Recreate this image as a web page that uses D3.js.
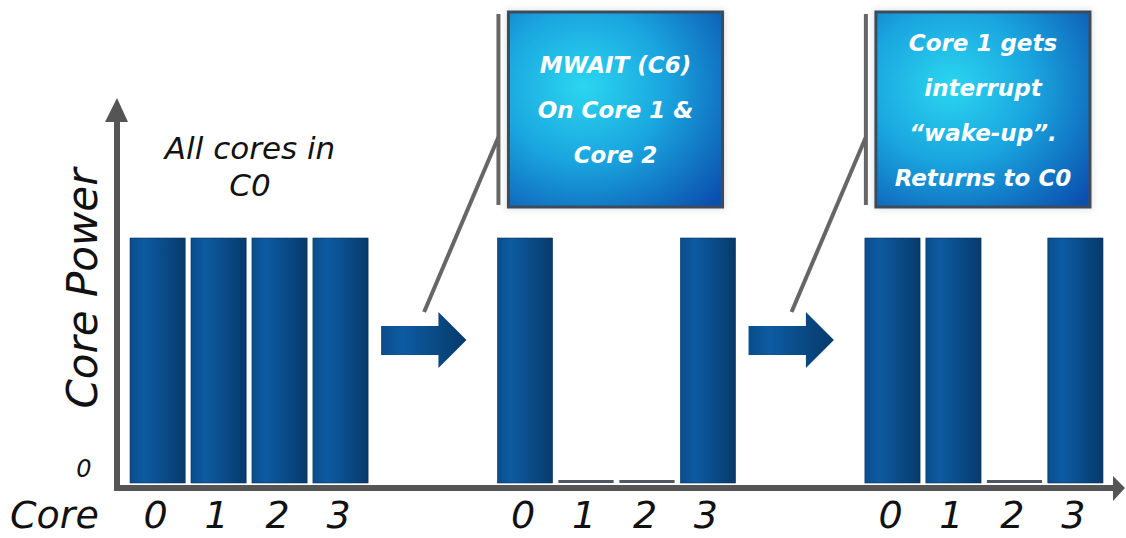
<!DOCTYPE html>
<html>
<head>
<meta charset="utf-8">
<script src="https://cdn.jsdelivr.net/npm/d3@7"></script>
<style>
  html, body { margin: 0; padding: 0; background: #ffffff; }
  svg { display: block; }
</style>
</head>
<body>
<svg id="chart" width="1126" height="538"></svg>
<script>
// Core power in three successive states of a 4-core package
const stages = ["All cores in C0", "MWAIT (C6) on cores 1 & 2", "Core 1 wakes"];
const cores = ["0", "1", "2", "3"];
const powerAllC0 = [1, 1, 1, 1];
const powerMwait = [1, 0, 0, 1];
const powerWake = [1, 1, 0, 1];
const stageTitle = ["All cores in", "C0"];
const calloutMwait = ["MWAIT (C6)", "On Core 1 &", "Core 2"];
const calloutWake = ["Core 1 gets", "interrupt", "\u201Cwake-up\u201D.", "Returns to C0"];

const series = [powerAllC0, powerMwait, powerWake];
const callouts = [null, calloutMwait, calloutWake];

const svg = d3.select("#chart");
const FONT = "'DejaVu Sans', Verdana, sans-serif";
const AXIS = "#555555";

// Scales: one band per stage, one sub-band per core
const x0 = d3.scaleBand().domain(d3.range(stages.length)).range([130, 1103]).paddingInner(0.352);
const x1 = d3.scaleBand().domain(cores).range([0, x0.bandwidth()]).paddingInner(0.095);
const y = d3.scaleLinear().domain([0, 1]).range([483, 238]);

// Gradients
const defs = svg.append("defs");
const barGrad = defs.append("linearGradient").attr("id", "barGrad").attr("x1", 0).attr("x2", 1).attr("y1", 0).attr("y2", 0);
barGrad.append("stop").attr("offset", "0%").attr("stop-color", "#0a4d8c");
barGrad.append("stop").attr("offset", "25%").attr("stop-color", "#0d5ba2");
barGrad.append("stop").attr("offset", "100%").attr("stop-color", "#073a6b");

const boxGrad = defs.append("radialGradient").attr("id", "boxGrad")
  .attr("cx", "35%").attr("cy", "38%").attr("r", "85%");
boxGrad.append("stop").attr("offset", "0%").attr("stop-color", "#2bd6f0");
boxGrad.append("stop").attr("offset", "45%").attr("stop-color", "#1aa6df");
boxGrad.append("stop").attr("offset", "100%").attr("stop-color", "#0b4fae");

const blur = defs.append("filter").attr("id", "glow").attr("x", "-10%").attr("y", "-10%").attr("width", "120%").attr("height", "120%");
blur.append("feGaussianBlur").attr("stdDeviation", 3);

// Axes
const axisX = x0.range()[0] - 13;
const axisY = y(0) + 5;
svg.append("line").attr("x1", axisX).attr("x2", axisX).attr("y1", y(1) - 116).attr("y2", axisY + 3)
  .attr("stroke", AXIS).attr("stroke-width", 6);
svg.append("path")
  .attr("d", `M${axisX - 12},${y(1) - 116} L${axisX + 11},${y(1) - 116} L${axisX},${y(1) - 140} Z`)
  .attr("fill", AXIS);
svg.append("line").attr("x1", axisX - 3).attr("x2", 1114).attr("y1", axisY).attr("y2", axisY)
  .attr("stroke", AXIS).attr("stroke-width", 6);
svg.append("path")
  .attr("d", `M1113,${axisY - 12} L1113,${axisY + 13} L1125,${axisY} Z`)
  .attr("fill", AXIS);

// Axis labels
svg.append("text")
  .attr("transform", `translate(${axisX - 20},${(y(0) + y(1)) / 2 - 72}) rotate(-90)`)
  .attr("text-anchor", "middle")
  .attr("font-family", FONT).attr("font-style", "italic").attr("font-size", 42)
  .attr("fill", "#111").text("Core Power");
svg.append("text")
  .attr("x", axisX - 33).attr("y", y(0) - 6)
  .attr("text-anchor", "middle")
  .attr("font-family", FONT).attr("font-style", "italic").attr("font-size", 24)
  .attr("fill", "#111").text("0");
svg.append("text")
  .attr("x", 10).attr("y", 528)
  .attr("font-family", FONT).attr("font-style", "italic").attr("font-size", 38)
  .attr("fill", "#111").text("Core");

// Bars, per stage
const stageG = svg.selectAll("g.stage").data(series).join("g")
  .attr("class", "stage")
  .attr("transform", (d, i) => `translate(${x0(i)},0)`);

stageG.selectAll("rect.bar").data(d => d.map((v, j) => ({ core: cores[j], v })))
  .join("rect")
  .attr("class", "bar")
  .attr("x", d => x1(d.core))
  .attr("width", x1.bandwidth())
  .attr("y", d => d.v > 0 ? y(d.v) : y(0) - 3)
  .attr("height", d => d.v > 0 ? y(0) - y(d.v) : 3)
  .attr("fill", d => d.v > 0 ? "url(#barGrad)" : "#4e5964")
  .attr("stroke", d => d.v > 0 ? "#0a3560" : "none")
  .attr("stroke-width", 0.6);

// Core tick labels
stageG.selectAll("text.core").data(cores).join("text")
  .attr("class", "core")
  .attr("x", c => x1(c) + x1.bandwidth() / 2 - 2)
  .attr("y", 528)
  .attr("text-anchor", "middle")
  .attr("font-family", FONT).attr("font-style", "italic").attr("font-size", 38)
  .attr("fill", "#111").text(c => c);

// First stage title
svg.append("text")
  .attr("x", x0(0) + x0.bandwidth() / 2 + 1)
  .attr("font-family", FONT).attr("font-style", "italic").attr("font-size", 31)
  .attr("text-anchor", "middle").attr("fill", "#111")
  .selectAll("tspan").data(stageTitle).join("tspan")
  .attr("x", x0(0) + x0.bandwidth() / 2 + 1)
  .attr("y", (d, i) => 159 + i * 37)
  .text(d => d);

// Transition arrows between stages
const arrowY = 340;
for (let i = 0; i < stages.length - 1; i++) {
  const gapStart = x0(i) + x0.bandwidth();
  const gapEnd = x0(i + 1);
  const a0 = gapStart + 13, tip = gapEnd - 31, neck = tip - 28;
  svg.append("path")
    .attr("d", `M${a0},${arrowY - 14} L${neck},${arrowY - 14} L${neck},${arrowY - 28} L${tip},${arrowY} L${neck},${arrowY + 28} L${neck},${arrowY + 15} L${a0},${arrowY + 15} Z`)
    .attr("fill", "url(#barGrad)");

  // Callout for the following stage
  const lines = callouts[i + 1];
  const gx = x0(i + 1);
  const bx0 = gx + 11, bx1 = gx + x0.bandwidth() - 13;
  const by0 = 12, by1 = 207;
  svg.append("line").attr("x1", gx + 1).attr("x2", gx + 1).attr("y1", by0 + 2).attr("y2", by1 - 2)
    .attr("stroke", "#666").attr("stroke-width", 4);
  svg.append("line").attr("x1", gx + 1).attr("y1", 137).attr("x2", a0 + 43).attr("y2", arrowY - 28)
    .attr("stroke", "#666").attr("stroke-width", 4);
  svg.append("rect").attr("x", bx0 - 3).attr("y", by0 - 3).attr("width", bx1 - bx0 + 6).attr("height", by1 - by0 + 6)
    .attr("fill", "#c8cdd2").attr("opacity", 0.5).attr("filter", "url(#glow)");
  svg.append("rect").attr("x", bx0).attr("y", by0).attr("width", bx1 - bx0).attr("height", by1 - by0)
    .attr("fill", "url(#boxGrad)").attr("stroke", "#3e4c5a").attr("stroke-width", 3);
  const cy = (by0 + by1) / 2;
  const step = 45;
  svg.append("g").selectAll("text").data(lines).join("text")
    .attr("x", (bx0 + bx1) / 2)
    .attr("y", (d, k) => cy + (k - (lines.length - 1) / 2) * step + 8.5)
    .attr("text-anchor", "middle")
    .attr("font-family", FONT).attr("font-weight", "bold").attr("font-style", "italic")
    .attr("font-size", 23).attr("fill", "#ffffff")
    .text(d => d);
}
</script>
</body>
</html>
